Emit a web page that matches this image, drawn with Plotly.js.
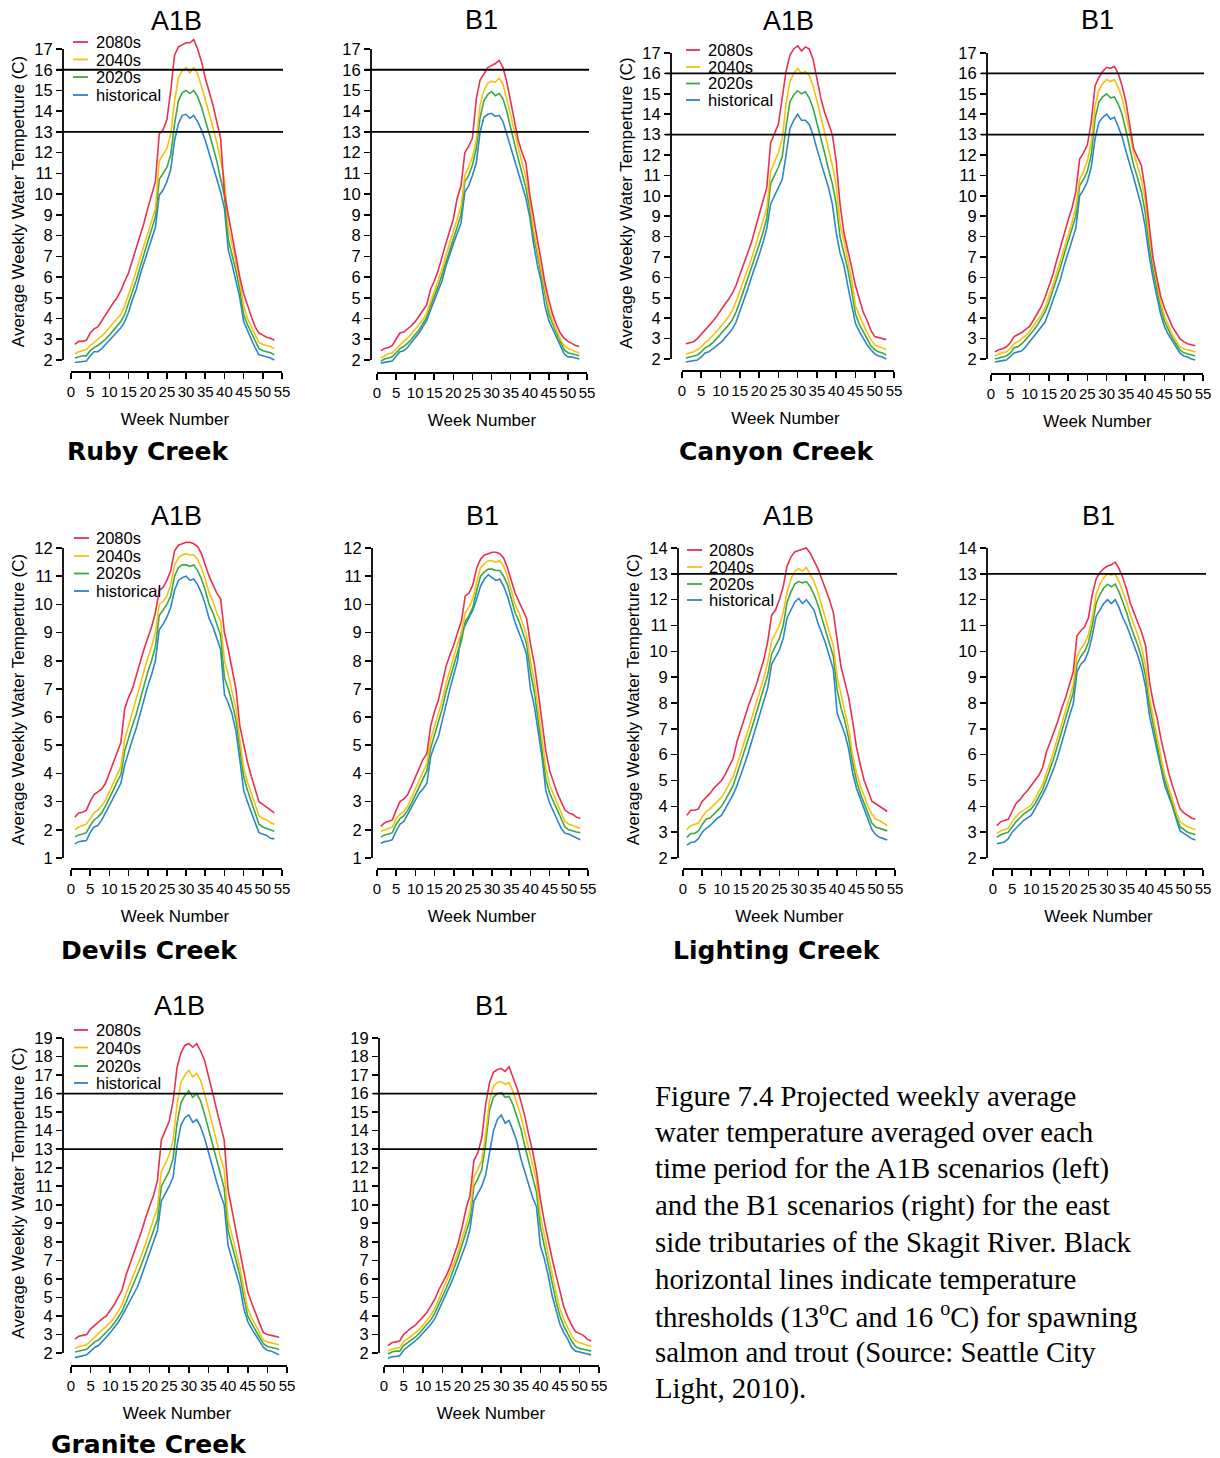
<!DOCTYPE html>
<html>
<head>
<meta charset="utf-8">
<script src="https://cdn.plot.ly/plotly-3.0.1.min.js"></script>
<style>html,body{margin:0;padding:0;background:#fff}</style>
</head>
<body>
<div id="chart" style="width:1220px;height:1458px"></div>
<script>
// ---------------- DATA ----------------
const weeks = [1,2,3,4,5,6,7,8,9,10,11,12,13,14,15,16,17,18,19,20,21,22,23,24,25,26,27,28,29,30,31,32,33,34,35,36,37,38,39,40,41,42,43,44,45,46,47,48,49,50,51,52,53];
const xTickVals = [0,5,10,15,20,25,30,35,40,45,50,55];
const yTicks2to17 = [2,3,4,5,6,7,8,9,10,11,12,13,14,15,16,17];
const yTicks1to12 = [1,2,3,4,5,6,7,8,9,10,11,12];
const yTicks2to14 = [2,3,4,5,6,7,8,9,10,11,12,13,14];
const yTicks2to19 = [2,3,4,5,6,7,8,9,10,11,12,13,14,15,16,17,18,19];
const seriesDrawOrder = ['historical','2020s','2040s','2080s'];
const legendOrder = ['2080s','2040s','2020s','historical'];
const scenarios = ['A1B','B1'];
const creeks = ['Ruby Creek','Canyon Creek','Devils Creek','Lighting Creek','Granite Creek'];
const thresholdsRuby = [13,16];
const thresholdsCanyon = [13,16];
const thresholdsDevils = [];
const thresholdsLighting = [13];
const thresholdsGranite = [13,16];

// Ruby Creek A1B
const rubyA1B_hist  = [1.88,1.9,1.92,1.95,2.2,2.4,2.4,2.55,2.75,2.95, 3.15,3.35,3.55,3.85,4.3,4.9,5.4,6.1,6.7,7.25, 7.8,8.4,9.95,10.2,10.6,11.2,12.6,13.4,13.8,13.85, 13.65,13.8,13.5,13.1,12.6,12.0,11.4,10.8,10.1,9.3, 7.3,6.6,5.8,5.0,3.85,3.4,3.0,2.6,2.25,2.2, 2.15,2.1,2.0];
const rubyA1B_2020s = [2.1,2.15,2.2,2.2,2.45,2.6,2.7,2.85,3.0,3.2, 3.4,3.6,3.85,4.2,4.7,5.3,5.85,6.5,7.1,7.7, 8.3,8.9,10.7,11.0,11.3,11.9,13.4,14.5,14.9,15.0, 14.85,15.0,14.7,14.2,13.6,13.0,12.3,11.6,10.8,9.9, 7.8,7.1,6.3,5.4,4.2,3.7,3.3,2.9,2.55,2.45, 2.4,2.35,2.25];
const rubyA1B_2040s = [2.3,2.4,2.45,2.5,2.7,2.85,3.0,3.15,3.35,3.55, 3.75,3.95,4.2,4.6,5.1,5.7,6.3,6.9,7.5,8.1, 8.7,9.3,11.6,11.9,12.2,12.9,14.5,15.6,15.95,16.1, 15.85,16.1,15.8,15.2,14.6,13.9,13.2,12.5,11.6,10.7, 8.4,7.6,6.7,5.8,4.6,4.0,3.6,3.2,2.85,2.75, 2.7,2.65,2.55];
const rubyA1B_2080s = [2.75,2.9,2.9,2.95,3.3,3.5,3.6,3.9,4.2,4.5, 4.75,5.0,5.35,5.8,6.2,6.8,7.4,7.9,8.6,9.3, 9.9,10.6,12.9,13.1,13.6,15.0,16.7,17.1,17.2,17.3, 17.3,17.45,17.0,16.4,15.6,15.0,14.3,13.5,12.7,10.0, 9.0,8.0,7.0,6.0,5.2,4.6,4.1,3.6,3.3,3.2, 3.1,3.05,2.95];
// Ruby Creek B1
const rubyB1_hist  = [1.85,1.9,1.92,1.95,2.2,2.4,2.45,2.6,2.85,3.05, 3.3,3.6,3.9,4.4,4.85,5.3,5.8,6.5,7.1,7.6, 8.1,8.6,10.1,10.4,10.9,11.5,13.0,13.7,13.85,13.9, 13.75,13.8,13.5,12.9,12.3,11.6,11.0,10.4,9.8,8.9, 7.6,6.6,5.8,4.6,3.9,3.5,3.1,2.7,2.3,2.15, 2.15,2.1,2.05];
const rubyB1_2020s = [1.95,2.05,2.1,2.15,2.35,2.55,2.65,2.8,3.0,3.2, 3.45,3.75,4.05,4.6,5.05,5.55,6.1,6.7,7.3,7.9, 8.4,9.0,10.6,10.9,11.4,12.2,13.7,14.5,14.8,14.95, 14.75,14.85,14.6,14.0,13.2,12.4,11.7,11.0,10.3,9.3, 8.0,7.1,6.2,5.2,4.2,3.7,3.3,2.9,2.5,2.35, 2.3,2.25,2.2];
const rubyB1_2040s = [2.1,2.2,2.3,2.35,2.55,2.75,2.9,3.05,3.25,3.45, 3.7,3.95,4.25,4.8,5.3,5.8,6.35,7.0,7.6,8.2, 8.8,9.4,10.9,11.3,11.8,12.6,14.3,15.0,15.35,15.45, 15.4,15.6,15.3,14.6,13.8,13.0,12.2,11.5,10.8,9.7, 8.3,7.3,6.4,5.4,4.5,3.9,3.45,3.0,2.7,2.55, 2.5,2.4,2.35];
const rubyB1_2080s = [2.45,2.55,2.6,2.7,3.0,3.3,3.35,3.5,3.65,3.85, 4.1,4.4,4.65,5.4,5.8,6.3,7.0,7.6,8.2,8.8, 9.8,10.4,12.0,12.3,12.7,14.6,15.5,15.8,16.1,16.2, 16.3,16.45,16.1,15.4,14.5,13.6,12.6,12.0,11.5,10.0, 8.8,7.8,6.8,5.7,4.9,4.2,3.7,3.3,3.05,2.9, 2.8,2.7,2.65];
// Canyon Creek A1B
const canyonA1B_hist  = [1.85,1.88,1.9,1.95,2.1,2.3,2.35,2.5,2.65,2.8, 3.0,3.2,3.45,3.8,4.3,4.9,5.4,6.0,6.5,7.1, 7.7,8.4,9.6,10.0,10.4,10.8,12.0,13.3,13.7,14.0, 13.7,13.7,13.5,13.0,12.3,11.7,11.1,10.4,9.6,8.2, 7.2,6.6,5.6,4.7,3.75,3.35,3.0,2.7,2.45,2.25, 2.15,2.1,2.0];
const canyonA1B_2020s = [2.05,2.1,2.15,2.2,2.35,2.55,2.65,2.8,3.0,3.2, 3.4,3.65,3.9,4.3,4.8,5.35,5.85,6.45,7.0,7.6, 8.2,8.9,10.6,11.0,11.4,11.9,13.4,14.6,14.95,15.15, 15.0,15.1,14.8,14.3,13.6,12.9,12.1,11.3,10.6,9.6, 8.0,7.2,6.4,5.4,4.2,3.7,3.35,3.0,2.65,2.45, 2.35,2.3,2.2];
const canyonA1B_2040s = [2.25,2.3,2.35,2.45,2.6,2.8,2.95,3.15,3.35,3.55, 3.8,4.05,4.35,4.8,5.3,5.8,6.3,6.9,7.5,8.1, 8.7,9.4,11.2,11.7,12.1,12.8,14.5,15.6,16.0,16.25, 16.0,16.1,15.9,15.4,14.7,13.9,13.1,12.3,11.5,10.5, 8.6,7.8,6.9,5.9,4.6,4.1,3.7,3.3,2.95,2.7, 2.6,2.55,2.45];
const canyonA1B_2080s = [2.75,2.8,2.85,3.0,3.2,3.4,3.6,3.85,4.1,4.4, 4.65,4.9,5.2,5.6,6.1,6.6,7.1,7.7,8.4,9.1, 9.7,10.4,12.6,13.1,13.5,14.8,16.1,16.9,17.2,17.35, 17.1,17.3,17.2,16.7,15.8,14.8,14.1,13.5,13.0,11.7, 9.6,8.2,7.4,6.5,5.6,4.9,4.3,3.9,3.4,3.1, 3.05,3.0,2.95];
// Canyon Creek B1
const canyonB1_hist  = [1.85,1.9,1.92,1.95,2.15,2.3,2.35,2.4,2.6,2.85, 3.05,3.3,3.55,3.8,4.3,4.8,5.3,5.9,6.6,7.2, 7.8,8.4,10.0,10.3,10.7,11.4,12.8,13.6,13.85,14.0, 13.75,13.85,13.4,12.9,12.2,11.6,10.9,10.2,9.5,8.5, 7.1,6.0,5.1,4.2,3.6,3.2,2.9,2.6,2.3,2.15, 2.1,2.0,1.95];
const canyonB1_2020s = [2.0,2.05,2.1,2.15,2.3,2.55,2.6,2.75,2.95,3.15, 3.4,3.65,3.95,4.3,4.75,5.3,5.9,6.5,7.15,7.75, 8.35,9.0,10.5,10.8,11.2,12.0,13.8,14.6,14.85,15.0, 14.8,14.85,14.5,14.0,13.2,12.4,11.5,10.9,10.2,9.2, 7.6,6.4,5.5,4.5,3.85,3.45,3.05,2.75,2.45,2.3, 2.25,2.2,2.15];
const canyonB1_2040s = [2.15,2.25,2.3,2.35,2.5,2.75,2.85,3.0,3.15,3.35, 3.6,3.85,4.15,4.5,5.0,5.6,6.2,6.8,7.5,8.1, 8.7,9.4,10.8,11.2,11.7,12.6,14.4,15.2,15.5,15.7, 15.6,15.7,15.3,14.8,14.0,13.1,12.1,11.5,10.8,9.8, 8.1,6.8,5.8,4.8,4.1,3.6,3.2,2.9,2.6,2.5, 2.45,2.4,2.35];
const canyonB1_2080s = [2.35,2.45,2.5,2.6,2.8,3.1,3.2,3.3,3.45,3.6, 3.9,4.2,4.55,5.0,5.5,6.1,6.8,7.5,8.2,8.8, 9.4,10.2,11.8,12.1,12.5,13.6,15.4,15.8,16.1,16.3, 16.25,16.35,16.0,15.4,14.6,13.5,12.3,11.9,11.5,10.3, 8.6,7.0,6.0,5.1,4.5,4.0,3.6,3.3,3.0,2.85, 2.75,2.7,2.65];
// Devils Creek A1B
const devilsA1B_hist  = [1.5,1.58,1.6,1.62,1.9,2.1,2.15,2.35,2.6,2.85, 3.15,3.4,3.65,4.3,4.8,5.2,5.6,6.1,6.6,7.1, 7.5,8.0,9.1,9.3,9.55,9.9,10.5,10.85,10.95,11.0, 10.85,10.9,10.7,10.4,10.0,9.5,9.2,8.8,8.4,6.8, 6.5,6.1,5.5,4.5,3.4,3.0,2.6,2.25,1.9,1.85, 1.8,1.7,1.68];
const devilsA1B_2020s = [1.75,1.82,1.85,1.9,2.15,2.35,2.45,2.6,2.85,3.1, 3.4,3.7,3.95,4.8,5.3,5.7,6.1,6.6,7.1,7.6, 8.0,8.5,9.6,9.8,10.0,10.3,11.0,11.3,11.4,11.4, 11.35,11.4,11.2,10.9,10.5,10.0,9.7,9.3,8.9,7.4, 7.0,6.5,5.9,4.9,3.9,3.4,3.0,2.6,2.2,2.1, 2.05,2.0,1.95];
const devilsA1B_2040s = [2.0,2.1,2.15,2.2,2.4,2.6,2.7,2.85,3.05,3.35, 3.65,3.95,4.25,5.2,5.7,6.1,6.6,7.1,7.6,8.1, 8.5,9.0,10.0,10.1,10.3,10.7,11.4,11.65,11.75,11.8, 11.75,11.75,11.6,11.3,10.9,10.4,10.1,9.7,9.4,8.0, 7.5,6.9,6.3,5.2,4.2,3.7,3.3,2.9,2.5,2.4, 2.35,2.25,2.2];
const devilsA1B_2080s = [2.45,2.6,2.62,2.7,3.0,3.25,3.35,3.45,3.65,4.0, 4.35,4.75,5.1,6.3,6.7,7.0,7.5,8.0,8.4,8.8, 9.2,9.7,10.5,10.6,10.85,11.2,11.9,12.1,12.15,12.2, 12.2,12.15,12.05,11.8,11.4,11.0,10.7,10.4,10.2,9.0, 8.4,7.7,7.0,5.7,5.0,4.4,3.9,3.4,3.0,2.9, 2.8,2.7,2.6];
// Devils Creek B1
const devilsB1_hist  = [1.52,1.58,1.6,1.65,1.95,2.2,2.3,2.55,2.8,3.05, 3.3,3.45,3.65,4.6,5.0,5.3,5.9,6.5,7.0,7.5, 8.0,9.0,9.25,9.5,9.8,10.2,10.65,10.9,11.05,10.95, 10.85,10.9,10.65,10.3,9.85,9.35,9.0,8.65,8.2,7.0, 6.4,5.5,4.6,3.4,2.95,2.65,2.35,2.05,1.88,1.85, 1.78,1.7,1.65];
const devilsB1_2020s = [1.75,1.82,1.85,1.9,2.2,2.4,2.5,2.7,2.95,3.25, 3.55,3.85,4.1,4.9,5.4,5.8,6.3,6.9,7.4,7.8, 8.3,8.7,9.4,9.6,9.9,10.5,11.0,11.15,11.25,11.25, 11.2,11.2,11.0,10.7,10.2,9.7,9.4,9.0,8.6,7.6, 6.9,5.9,4.9,3.8,3.3,3.0,2.65,2.35,2.1,2.0, 1.95,1.92,1.9];
const devilsB1_2040s = [1.95,2.0,2.05,2.1,2.4,2.55,2.65,2.85,3.15,3.45, 3.75,4.05,4.35,5.2,5.7,6.1,6.6,7.2,7.7,8.1, 8.6,9.0,9.7,9.9,10.2,10.8,11.3,11.45,11.55,11.55, 11.5,11.55,11.35,11.0,10.5,10.0,9.7,9.3,8.9,8.0, 7.3,6.3,5.3,4.2,3.6,3.25,2.9,2.6,2.3,2.2, 2.15,2.1,2.05];
const devilsB1_2080s = [2.12,2.25,2.3,2.35,2.7,3.0,3.1,3.25,3.55,3.85, 4.2,4.5,4.7,5.7,6.2,6.6,7.2,7.8,8.2,8.55, 9.0,9.4,10.3,10.4,10.7,11.3,11.6,11.75,11.8,11.85, 11.85,11.8,11.65,11.3,10.85,10.4,10.1,9.8,9.5,8.6, 7.9,6.9,5.8,4.8,4.1,3.7,3.3,3.0,2.7,2.6, 2.55,2.45,2.4];
// Lighting Creek A1B
const lightingA1B_hist  = [2.5,2.6,2.62,2.75,3.0,3.15,3.25,3.4,3.55,3.65, 3.9,4.2,4.45,4.8,5.2,5.65,6.1,6.6,7.1,7.6, 8.1,8.6,9.5,9.75,10.05,10.5,11.3,11.6,11.9,12.05, 11.85,12.0,11.8,11.6,11.1,10.7,10.3,9.8,9.3,7.6, 7.2,6.8,6.2,5.3,4.7,4.3,3.9,3.5,3.1,2.9, 2.8,2.75,2.7];
const lightingA1B_2020s = [2.8,2.95,2.95,3.05,3.3,3.5,3.55,3.7,3.85,4.0, 4.25,4.5,4.8,5.25,5.7,6.15,6.6,7.1,7.6,8.1, 8.6,9.1,9.9,10.2,10.5,11.0,11.9,12.3,12.6,12.7, 12.65,12.7,12.5,12.2,11.8,11.3,10.8,10.3,9.8,8.5, 7.8,7.3,6.6,5.7,5.0,4.5,4.1,3.7,3.35,3.2, 3.15,3.1,3.05];
const lightingA1B_2040s = [3.1,3.25,3.3,3.35,3.6,3.8,3.9,4.05,4.2,4.35, 4.6,4.85,5.15,5.6,6.05,6.5,7.0,7.5,8.0,8.5, 9.0,9.6,10.4,10.7,11.0,11.5,12.3,12.8,13.1,13.2, 13.1,13.25,13.0,12.7,12.3,11.8,11.3,10.8,10.2,9.0, 8.3,7.7,7.0,6.0,5.3,4.8,4.4,4.0,3.7,3.5, 3.45,3.35,3.25];
const lightingA1B_2080s = [3.65,3.85,3.85,3.9,4.2,4.35,4.5,4.7,4.85,5.0, 5.25,5.55,5.85,6.5,7.0,7.5,7.9,8.3,8.7,9.2, 9.7,10.4,11.4,11.6,12.0,12.5,13.3,13.65,13.85,13.9, 13.95,14.0,13.8,13.5,13.2,12.8,12.4,12.0,11.5,10.5, 9.4,8.8,8.2,7.3,6.3,5.6,5.0,4.6,4.2,4.1, 4.0,3.9,3.8];
// Lighting Creek B1
const lightingB1_hist  = [2.55,2.6,2.62,2.75,3.0,3.15,3.3,3.45,3.55,3.65, 3.9,4.15,4.45,4.75,5.1,5.5,5.95,6.5,7.0,7.5, 7.95,9.2,9.5,9.65,10.0,10.6,11.35,11.6,11.85,12.0, 11.85,12.0,11.7,11.3,11.0,10.6,10.2,9.8,9.3,8.6, 7.5,6.8,6.2,5.4,4.8,4.4,4.0,3.5,3.05,2.95, 2.85,2.75,2.7];
const lightingB1_2020s = [2.8,2.9,2.95,3.0,3.2,3.4,3.55,3.7,3.8,3.9, 4.1,4.35,4.65,5.05,5.45,5.9,6.4,6.9,7.4,7.9, 8.4,9.5,9.8,10.0,10.35,11.0,11.85,12.2,12.45,12.6, 12.5,12.6,12.3,11.9,11.5,11.0,10.6,10.2,9.7,9.0, 7.9,7.1,6.4,5.6,5.0,4.5,4.1,3.6,3.2,3.1, 3.0,2.95,2.9];
const lightingB1_2040s = [2.95,3.05,3.1,3.15,3.4,3.6,3.75,3.85,3.95,4.05, 4.3,4.55,4.85,5.3,5.7,6.2,6.7,7.2,7.7,8.2, 8.7,9.8,10.1,10.3,10.65,11.3,12.2,12.6,12.85,13.0, 12.95,13.0,12.7,12.3,11.9,11.4,11.0,10.6,10.1,9.4, 8.2,7.4,6.7,5.9,5.2,4.7,4.3,3.8,3.4,3.3, 3.2,3.15,3.1];
const lightingB1_2080s = [3.25,3.4,3.45,3.5,3.8,4.1,4.25,4.45,4.6,4.8, 5.0,5.2,5.5,6.1,6.5,6.9,7.3,7.8,8.2,8.7, 9.2,10.6,10.8,10.95,11.3,12.2,12.8,13.05,13.2,13.3, 13.35,13.45,13.2,12.85,12.4,11.85,11.45,11.1,10.7,10.2, 8.8,8.0,7.4,6.6,5.9,5.3,4.8,4.3,3.9,3.75, 3.65,3.55,3.5];
// Granite Creek A1B
const graniteA1B_hist  = [1.75,1.8,1.85,1.9,2.1,2.3,2.4,2.6,2.85,3.1, 3.35,3.65,4.0,4.4,4.85,5.2,5.6,6.2,6.8,7.4, 8.0,8.6,10.2,10.6,11.0,11.5,13.2,14.3,14.7,14.85, 14.45,14.6,14.2,13.6,12.8,12.0,11.3,10.6,10.0,7.8, 7.1,6.4,5.6,4.4,3.7,3.3,2.95,2.6,2.3,2.15, 2.1,2.0,1.9];
const graniteA1B_2020s = [2.05,2.1,2.15,2.2,2.4,2.6,2.7,2.9,3.1,3.35, 3.6,3.9,4.25,4.75,5.25,5.7,6.2,6.8,7.4,8.0, 8.6,9.2,11.0,11.4,11.8,12.5,14.4,15.5,15.9,16.15, 15.8,16.0,15.6,14.9,14.1,13.2,12.4,11.6,10.9,8.6, 7.8,7.0,6.2,5.0,4.0,3.6,3.2,2.85,2.5,2.35, 2.3,2.25,2.2];
const graniteA1B_2040s = [2.25,2.35,2.4,2.45,2.65,2.85,3.0,3.2,3.4,3.65, 3.9,4.25,4.6,5.2,5.7,6.2,6.7,7.3,7.9,8.6, 9.2,9.8,11.8,12.2,12.7,13.5,15.4,16.6,17.0,17.25, 16.9,17.1,16.7,16.0,15.2,14.3,13.5,12.6,11.9,9.2, 8.4,7.5,6.6,5.4,4.4,3.9,3.5,3.1,2.7,2.6, 2.55,2.5,2.45];
const graniteA1B_2080s = [2.75,2.9,2.95,3.0,3.3,3.5,3.65,3.85,4.0,4.3, 4.6,5.0,5.4,6.2,6.8,7.3,7.9,8.6,9.3,9.9, 10.5,11.3,13.5,14.0,14.5,15.6,17.4,18.2,18.6,18.7, 18.5,18.7,18.3,17.8,17.0,16.1,15.2,14.4,13.5,10.8, 9.7,8.6,7.6,6.4,5.3,4.7,4.1,3.6,3.1,3.0, 2.95,2.9,2.85];
// Granite Creek B1
const graniteB1_hist  = [1.72,1.8,1.82,1.85,2.15,2.3,2.45,2.65,2.85,3.08, 3.3,3.55,3.85,4.3,4.8,5.25,5.7,6.2,6.8,7.3, 7.9,8.7,10.2,10.6,11.0,11.6,12.9,14.0,14.6,14.85, 14.4,14.55,14.0,13.4,12.5,11.8,11.0,10.4,9.9,7.8, 7.1,6.2,5.1,4.3,3.55,3.1,2.75,2.3,2.1,2.05, 2.0,1.95,1.9];
const graniteB1_2020s = [1.95,2.05,2.1,2.1,2.4,2.55,2.7,2.85,3.05,3.3, 3.55,3.8,4.15,4.6,5.1,5.55,6.05,6.6,7.2,7.85, 8.5,9.2,11.0,11.4,11.9,13.3,15.1,15.8,16.0,16.05, 15.8,15.85,15.4,14.8,14.1,13.2,12.3,11.5,10.7,8.8, 7.8,6.8,5.8,4.8,4.0,3.45,3.05,2.65,2.35,2.25, 2.2,2.15,2.1];
const graniteB1_2040s = [2.1,2.2,2.25,2.3,2.6,2.75,2.9,3.05,3.25,3.5, 3.75,4.05,4.4,4.9,5.35,5.8,6.3,6.9,7.5,8.2, 8.9,9.6,11.5,11.9,12.4,13.8,15.6,16.4,16.6,16.65, 16.5,16.6,16.1,15.5,14.8,13.9,13.0,12.2,11.3,9.4, 8.3,7.3,6.3,5.3,4.4,3.8,3.35,2.95,2.65,2.55, 2.5,2.4,2.35];
const graniteB1_2080s = [2.4,2.55,2.6,2.65,3.0,3.2,3.35,3.5,3.7,3.95, 4.2,4.55,4.9,5.4,5.8,6.2,6.7,7.3,7.95,8.8, 9.8,10.5,12.4,12.8,13.6,15.4,16.6,17.15,17.3,17.35, 17.2,17.45,16.9,16.3,15.6,14.8,13.8,12.9,11.8,10.3, 9.1,8.0,7.1,6.2,5.3,4.5,3.95,3.5,3.15,3.05, 2.95,2.75,2.65];

const captionLines = [
  'Figure 7.4 Projected weekly average',
  'water temperature averaged over each',
  'time period for the A1B scenarios (left)',
  'and the B1 scenarios (right) for the east',
  'side tributaries of the Skagit River. Black',
  'horizontal lines indicate temperature',
  'thresholds (13<sup>o</sup>C and 16 <sup>o</sup>C) for spawning',
  'salmon and trout (Source: Seattle City',
  'Light, 2010).'
];

// ---------------- STYLE / LAYOUT ----------------
const W = 1220, H = 1458;
const colors = {'2080s':'#E8304F','2040s':'#F4C20D','2020s':'#3AA845','historical':'#2C85C8'};
const SANS = 'Liberation Sans, Arial, sans-serif';
const NARROW = 'Liberation Sans Narrow, Liberation Sans, Arial, sans-serif';

const panels = [
  {scen:'A1B', creek:creeks[0], d:[rubyA1B_hist,rubyA1B_2020s,rubyA1B_2040s,rubyA1B_2080s], yTicks:yTicks2to17, thr:thresholdsRuby,
   g:{axL:63,x0:71,x55:282,thrEnd:283,pLo:360,pHi:49,axB:372}, leg:{sw0:73,sw1:88,tx:95,rows:[42,59.5,77,95]}, titleY:21, creekPos:[148,451]},
  {scen:'B1', d:[rubyB1_hist,rubyB1_2020s,rubyB1_2040s,rubyB1_2080s], yTicks:yTicks2to17, thr:thresholdsRuby,
   g:{axL:371,x0:377,x55:587,thrEnd:589,pLo:360,pHi:49,axB:373}, titleY:20},
  {scen:'A1B', creek:creeks[1], d:[canyonA1B_hist,canyonA1B_2020s,canyonA1B_2040s,canyonA1B_2080s], yTicks:yTicks2to17, thr:thresholdsCanyon,
   g:{axL:671,x0:682,x55:894,thrEnd:896,pLo:359,pHi:53,axB:371}, leg:{sw0:686,sw1:700,tx:707,rows:[50,67,83.5,100]}, titleY:21, creekPos:[777,451]},
  {scen:'B1', d:[canyonB1_hist,canyonB1_2020s,canyonB1_2040s,canyonB1_2080s], yTicks:yTicks2to17, thr:thresholdsCanyon,
   g:{axL:987,x0:991,x55:1203,thrEnd:1204,pLo:359,pHi:53,axB:374}, titleY:20},
  {scen:'A1B', creek:creeks[2], d:[devilsA1B_hist,devilsA1B_2020s,devilsA1B_2040s,devilsA1B_2080s], yTicks:yTicks1to12, thr:thresholdsDevils,
   g:{axL:63,x0:71,x55:282,thrEnd:283,pLo:858,pHi:548,axB:869}, leg:{sw0:74,sw1:89,tx:95,rows:[538,556,573.5,591]}, titleY:516, creekPos:[149,950]},
  {scen:'B1', d:[devilsB1_hist,devilsB1_2020s,devilsB1_2040s,devilsB1_2080s], yTicks:yTicks1to12, thr:thresholdsDevils,
   g:{axL:372,x0:377,x55:588,thrEnd:588,pLo:858,pHi:548,axB:869}, titleY:516},
  {scen:'A1B', creek:creeks[3], d:[lightingA1B_hist,lightingA1B_2020s,lightingA1B_2040s,lightingA1B_2080s], yTicks:yTicks2to14, thr:thresholdsLighting,
   g:{axL:678,x0:683,x55:895,thrEnd:897,pLo:858,pHi:548,axB:869}, leg:{sw0:687,sw1:702,tx:708,rows:[550,567,584,600]}, titleY:516, creekPos:[777,950]},
  {scen:'B1', d:[lightingB1_hist,lightingB1_2020s,lightingB1_2040s,lightingB1_2080s], yTicks:yTicks2to14, thr:thresholdsLighting,
   g:{axL:987,x0:993,x55:1203,thrEnd:1206,pLo:858,pHi:548,axB:869}, titleY:516},
  {scen:'A1B', creek:creeks[4], d:[graniteA1B_hist,graniteA1B_2020s,graniteA1B_2040s,graniteA1B_2080s], yTicks:yTicks2to19, thr:thresholdsGranite,
   g:{axL:63,x0:71,x55:287,thrEnd:283,pLo:1353,pHi:1038,axB:1366}, leg:{sw0:74,sw1:88,tx:95,rows:[1030,1047.5,1066,1083]}, titleY:1006, creekPos:[149,1444]},
  {scen:'B1', d:[graniteB1_hist,graniteB1_2020s,graniteB1_2040s,graniteB1_2080s], yTicks:yTicks2to19, thr:thresholdsGranite,
   g:{axL:379,x0:384,x55:599,thrEnd:597,pLo:1353,pHi:1038,axB:1366}, titleY:1006}
];

const traces = [], shapes = [], annotations = [];
const layout = {
  width: W, height: H, margin:{l:0,r:0,t:0,b:0},
  paper_bgcolor:'#ffffff', plot_bgcolor:'rgba(0,0,0,0)',
  showlegend:false, font:{family:SANS, color:'#000'}
};
const px = v => v / W, py = v => 1 - v / H;

panels.forEach((p, i) => {
  const n = i + 1, sfx = n === 1 ? '' : String(n);
  const xr = 'x' + sfx, yr = 'y' + sfx, g = p.g;
  const yLo = p.yTicks[0], yHi = p.yTicks[p.yTicks.length - 1];
  const s = (g.x55 - g.x0) / 55;
  const right = Math.max(g.x55, g.thrEnd) + 4;
  const ys = (g.pLo - g.pHi) / (yHi - yLo);
  const top = g.pHi - 18;

  layout['xaxis' + sfx] = {
    domain:[px(g.axL), px(right)], range:[(g.axL - g.x0) / s, (right - g.x0) / s], anchor:yr,
    tickmode:'array', tickvals:xTickVals, ticktext:xTickVals.map(String), tickangle:0,
    ticks:'outside', ticklen:6, tickwidth:1.6, tickcolor:'#000',
    showline:false, showgrid:false, zeroline:false, automargin:false, fixedrange:true,
    tickfont:{family:NARROW, size:15, color:'#000'},
    title:{text:'Week Number', font:{family:SANS, size:17, color:'#000'}, standoff:14}
  };
  const yax = {
    domain:[py(g.axB), py(top)], range:[yLo - (g.axB - g.pLo) / ys, yHi + (g.pHi - top) / ys], anchor:xr,
    tickmode:'array', tickvals:p.yTicks, ticktext:p.yTicks.map(String), tickangle:0,
    ticks:'outside', ticklen:6, tickwidth:1.6, tickcolor:'#000',
    showline:false, showgrid:false, zeroline:false, automargin:false, fixedrange:true,
    tickfont:{family:SANS, size:16.5, color:'#000'}
  };
  if (p.scen === 'A1B') {
    yax.title = {text:'Average Weekly Water Temperture (C)', font:{family:SANS, size:17, color:'#000'}, standoff:5};
  }
  layout['yaxis' + sfx] = yax;

  // data lines
  seriesDrawOrder.forEach((name, k) => {
    traces.push({
      type:'scatter', mode:'lines', x:weeks, y:p.d[k], xaxis:xr, yaxis:yr,
      name:name, line:{color:colors[name], width:1.6}, hoverinfo:'skip', showlegend:false
    });
  });

  // axis lines (R-style, detached)
  shapes.push({type:'line', xref:'paper', yref:yr, x0:px(g.axL), x1:px(g.axL), y0:yLo, y1:yHi,
    line:{color:'#000', width:1.8}});
  shapes.push({type:'line', xref:xr, yref:'paper', x0:xTickVals[0], x1:xTickVals[xTickVals.length-1], y0:py(g.axB), y1:py(g.axB),
    line:{color:'#000', width:1.8}});
  // threshold lines
  p.thr.forEach(t => {
    shapes.push({type:'line', xref:'paper', yref:yr, x0:px(g.axL - 6), x1:px(g.thrEnd), y0:t, y1:t,
      line:{color:'#000', width:1.8}});
  });

  // panel title
  annotations.push({text:p.scen, xref:'paper', yref:'paper', x:px((g.x0 + g.x55) / 2), y:py(p.titleY),
    xanchor:'center', yanchor:'middle', showarrow:false, font:{family:SANS, size:27, color:'#000'}});

  // legend (A1B panels)
  if (p.leg) {
    legendOrder.forEach((name, r) => {
      const yy = p.leg.rows[r];
      shapes.push({type:'line', xref:'paper', yref:'paper', x0:px(p.leg.sw0), x1:px(p.leg.sw1), y0:py(yy), y1:py(yy),
        line:{color:colors[name], width:1.8}});
      annotations.push({text:name, xref:'paper', yref:'paper', x:px(p.leg.tx), y:py(yy),
        xanchor:'left', yanchor:'middle', showarrow:false, borderpad:0,
        font:{family:SANS, size:16.5, color:'#000'}});
    });
  }
  // creek name
  if (p.creek) {
    annotations.push({text:'<b>' + p.creek + '</b>', xref:'paper', yref:'paper', x:px(p.creekPos[0]), y:py(p.creekPos[1]),
      xanchor:'center', yanchor:'middle', showarrow:false, font:{family:'DejaVu Sans, Verdana, sans-serif', size:25, color:'#000'}});
  }
});

// caption
const capY0 = 1095.5, capStep = 36.65;
captionLines.forEach((line, i) => {
  annotations.push({text:line, xref:'paper', yref:'paper', x:px(653), y:py(capY0 + i * capStep),
    xanchor:'left', yanchor:'middle', showarrow:false, align:'left',
    font:{family:'Liberation Serif, Times New Roman, serif', size:28.8, color:'#000'}});
});

layout.shapes = shapes;
layout.annotations = annotations;

Plotly.newPlot('chart', traces, layout, {displayModeBar:false, staticPlot:true});
</script>
</body>
</html>
